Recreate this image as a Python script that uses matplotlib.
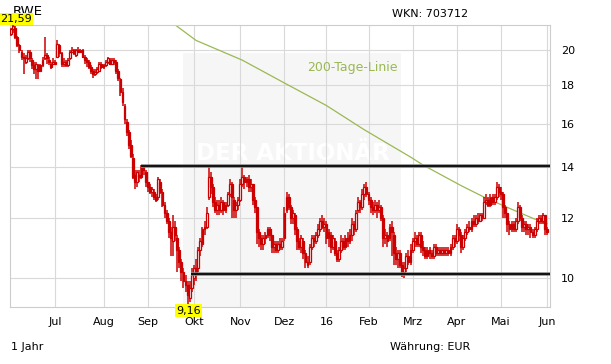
import numpy as np
import matplotlib
matplotlib.use("Agg")
import matplotlib.pyplot as plt
from matplotlib.ticker import NullLocator
from matplotlib.transforms import blended_transform_factory

# ── Daten (RWE, 1 Jahr, Tageskerzen, je Zeile ein Monat) ──────────────
open_ = [
    21.0, 21.3, 21.4, 20.8, 20.3, 19.9, 19.6, 19.3, 19.5, 19.9, 19.4, 19.1, 18.9, 19.1, 18.8, 19.1, 19.5, 19.7, 19.4, 19.2, 19.2,
    19.3, 19.6, 20.3, 19.8, 19.2, 19.3, 19.1, 19.5, 19.9, 20.0, 19.7, 20.0, 19.9, 20.0, 19.6, 19.4, 19.3, 19.0, 18.8, 18.6, 18.7, 18.8, 19.2,
    19.0, 19.1, 19.3, 19.4, 19.2, 19.4, 19.3, 18.8, 18.3, 17.6, 16.9, 16.1, 15.6, 15.0, 14.4, 13.7, 13.4, 13.7, 13.6, 14.0, 13.8,
    13.4, 13.2, 13.0, 13.0, 12.8, 12.8, 13.4, 13.0, 12.5, 12.2, 11.9, 11.5, 11.2, 11.7, 11.3, 10.9, 10.5, 10.2, 9.9, 9.8, 9.4, 9.7,
    10.0, 10.3, 10.3, 10.9, 11.1, 11.6, 11.7, 12.8, 13.6, 13.2, 12.6, 12.3, 12.5, 12.3, 12.6, 12.3, 12.5, 12.9, 13.3, 12.7, 12.3, 12.5,
    12.7, 13.3, 13.6, 13.4, 13.5, 13.2, 13.3, 12.7, 12.4, 11.5, 11.3, 11.1, 11.3, 11.4, 11.6, 11.4, 11.0, 11.1, 10.9, 11.1, 11.0,
    11.3, 12.3, 12.8, 12.4, 12.0, 12.1, 11.6, 11.2, 11.0, 11.2, 10.8, 10.5, 10.5, 11.0, 11.3, 11.2, 11.4, 11.6, 11.9, 11.7,
    11.8, 11.3, 11.4, 11.0, 11.2, 10.8, 10.6, 10.9, 11.2, 11.0, 11.3, 11.2, 11.4, 11.8, 11.6, 12.3, 12.6, 12.4, 12.9, 13.2,
    12.9, 12.7, 12.4, 12.3, 12.5, 12.3, 12.4, 12.0, 11.3, 11.4, 11.3, 11.7, 11.4, 10.8, 10.6, 10.8, 10.4, 10.2, 10.3, 10.7, 10.5,
    10.9, 11.2, 11.3, 11.1, 11.4, 11.0, 10.9, 10.7, 10.9, 10.8, 10.7, 11.0, 10.8, 10.9, 10.8, 10.9, 10.8, 10.9, 10.8, 11.0, 11.3,
    11.2, 11.6, 11.4, 11.0, 11.3, 11.5, 11.7, 11.6, 11.9, 11.8, 12.0, 11.9, 12.1, 12.0, 12.6, 12.7, 12.5, 12.8, 12.6, 12.8, 13.2,
    13.0, 12.9, 12.4, 12.2, 11.8, 11.6, 11.8, 11.6, 11.9, 12.4, 12.0, 11.7, 11.8, 11.6, 11.7, 11.5, 11.4, 11.6, 11.9, 12.0, 11.9, 12.1, 11.6,
]
high = [
    21.4, 21.59, 21.5, 20.9, 20.4, 20.0, 19.8, 19.7, 20.0, 20.0, 19.5, 19.3, 19.3, 19.2, 19.2, 19.6, 20.8, 19.8, 19.6, 19.3, 19.5,
    19.4, 20.6, 20.4, 19.9, 19.5, 19.4, 19.5, 20.0, 20.2, 20.1, 20.1, 20.2, 20.1, 20.1, 19.7, 19.5, 19.4, 19.1, 18.9, 18.9, 19.0, 19.3, 19.3,
    19.2, 19.4, 19.6, 19.5, 19.5, 19.5, 19.4, 18.9, 18.4, 17.8, 17.0, 16.2, 15.7, 15.2, 14.6, 13.9, 13.9, 13.9, 14.1, 14.1, 13.9,
    13.4, 13.3, 13.2, 13.1, 12.9, 13.6, 13.5, 13.1, 12.6, 12.3, 12.0, 11.7, 12.1, 11.9, 11.4, 11.0, 10.6, 10.3, 10.1, 9.9, 9.9, 10.3,
    10.4, 10.6, 11.0, 11.3, 11.7, 11.9, 12.4, 14.1, 13.8, 13.3, 12.8, 12.7, 12.7, 12.8, 12.7, 12.6, 13.0, 13.5, 13.4, 12.8, 12.6, 12.8,
    13.5, 14.05, 13.7, 13.6, 13.7, 13.5, 13.3, 12.8, 12.4, 11.6, 11.4, 11.4, 11.5, 11.7, 11.7, 11.4, 11.2, 11.2, 11.2, 11.3, 11.3,
    12.4, 13.0, 12.9, 12.5, 12.3, 12.2, 11.7, 11.3, 11.4, 11.3, 10.9, 10.7, 11.1, 11.4, 11.4, 11.5, 11.8, 12.0, 12.1, 12.0,
    11.9, 11.6, 11.5, 11.4, 11.3, 10.9, 11.0, 11.4, 11.3, 11.4, 11.5, 11.6, 12.0, 11.9, 12.3, 12.8, 12.7, 13.1, 13.3, 13.4,
    13.0, 12.8, 12.6, 12.7, 12.6, 12.7, 12.5, 12.1, 11.6, 11.5, 11.8, 11.9, 11.5, 11.0, 10.9, 10.9, 10.5, 10.5, 10.8, 10.9, 11.1,
    11.3, 11.5, 11.4, 11.5, 11.5, 11.2, 11.0, 11.0, 11.0, 10.9, 11.1, 11.1, 11.0, 11.0, 11.0, 11.0, 11.0, 11.0, 11.1, 11.4, 11.4,
    11.8, 11.7, 11.5, 11.4, 11.6, 11.8, 11.9, 12.0, 12.1, 12.1, 12.2, 12.2, 12.2, 12.8, 12.9, 12.8, 12.9, 12.9, 12.9, 13.4, 13.3,
    13.2, 13.0, 12.5, 12.2, 11.9, 11.9, 11.9, 12.0, 12.6, 12.5, 12.1, 11.9, 11.9, 11.8, 11.8, 11.6, 11.7, 12.0, 12.1, 12.1, 12.2, 12.1, 11.7,
]
low = [
    20.9, 21.1, 20.7, 20.2, 19.8, 19.4, 18.6, 19.2, 19.4, 19.3, 18.9, 18.6, 18.3, 18.3, 18.7, 19.0, 19.4, 19.2, 19.1, 18.9, 19.1,
    19.1, 19.6, 19.6, 19.0, 19.0, 19.0, 19.0, 19.4, 19.8, 19.7, 19.6, 19.8, 19.8, 19.5, 19.2, 19.0, 18.9, 18.6, 18.4, 18.5, 18.6, 18.7, 18.9,
    18.9, 19.0, 19.2, 19.1, 19.1, 19.1, 18.6, 18.2, 17.4, 16.9, 16.0, 15.4, 14.8, 14.4, 13.5, 13.1, 13.2, 13.4, 13.5, 13.7, 13.2,
    13.0, 12.9, 12.8, 12.7, 12.6, 12.7, 12.9, 12.4, 12.0, 11.8, 11.3, 10.7, 10.7, 11.2, 10.2, 10.3, 9.9, 9.7, 9.6, 9.16, 9.3, 9.6,
    9.8, 9.9, 10.2, 10.7, 11.0, 11.4, 11.6, 12.7, 12.9, 12.4, 12.2, 12.1, 12.1, 12.2, 12.1, 12.2, 12.4, 12.8, 12.0, 12.0, 12.0, 12.3,
    12.6, 13.2, 13.1, 13.2, 13.0, 13.0, 12.5, 12.2, 11.1, 11.0, 10.9, 10.9, 11.1, 11.3, 11.2, 10.8, 10.8, 10.8, 10.8, 10.9, 10.9,
    11.2, 12.2, 12.3, 11.8, 11.8, 11.4, 10.9, 10.9, 10.8, 10.6, 10.3, 10.3, 10.4, 10.9, 11.0, 11.1, 11.3, 11.5, 11.6, 11.5,
    11.1, 11.0, 10.8, 10.9, 10.7, 10.5, 10.5, 10.8, 10.9, 10.9, 11.0, 11.1, 11.2, 11.4, 11.5, 12.2, 12.2, 12.3, 12.7, 12.8,
    12.5, 12.2, 12.1, 12.2, 12.0, 12.2, 11.9, 11.0, 11.1, 11.0, 11.2, 10.7, 10.4, 10.4, 10.3, 10.3, 10.05, 10.0, 10.2, 10.4, 10.4,
    10.8, 11.0, 11.0, 11.0, 10.8, 10.7, 10.6, 10.6, 10.6, 10.6, 10.6, 10.7, 10.7, 10.7, 10.7, 10.7, 10.7, 10.7, 10.7, 10.9, 11.0,
    11.1, 11.2, 10.8, 10.9, 11.2, 11.4, 11.5, 11.5, 11.7, 11.7, 11.8, 11.9, 11.9, 12.0, 12.5, 12.4, 12.4, 12.5, 12.5, 12.7, 12.8,
    12.7, 12.0, 12.0, 11.5, 11.4, 11.5, 11.5, 11.5, 11.8, 11.9, 11.5, 11.5, 11.4, 11.4, 11.3, 11.3, 11.3, 11.5, 11.8, 11.8, 11.8, 11.4, 11.4,
]
close = [
    21.3, 21.5, 20.8, 20.3, 20.0, 19.6, 19.5, 19.5, 19.9, 19.5, 19.1, 18.9, 19.2, 18.8, 19.1, 19.4, 19.7, 19.5, 19.3, 19.0, 19.3,
    19.2, 20.4, 19.8, 19.2, 19.3, 19.1, 19.4, 19.9, 20.0, 19.8, 20.0, 19.9, 20.0, 19.6, 19.4, 19.3, 19.0, 18.8, 18.6, 18.7, 18.9, 19.2, 19.0,
    19.1, 19.3, 19.5, 19.2, 19.4, 19.3, 18.8, 18.4, 17.6, 17.1, 16.2, 15.6, 15.0, 14.5, 13.6, 13.4, 13.8, 13.6, 14.0, 13.9, 13.4,
    13.2, 13.0, 13.1, 12.8, 12.7, 13.5, 13.0, 12.5, 12.2, 11.9, 11.5, 11.3, 11.7, 11.4, 10.9, 10.5, 10.2, 9.9, 9.8, 9.5, 9.7, 10.1,
    10.3, 10.2, 10.9, 11.2, 11.6, 11.7, 12.2, 13.6, 13.2, 12.6, 12.3, 12.5, 12.3, 12.6, 12.3, 12.5, 12.9, 13.3, 12.8, 12.3, 12.5, 12.7,
    13.3, 13.6, 13.4, 13.5, 13.2, 13.3, 12.7, 12.4, 11.5, 11.3, 11.1, 11.3, 11.4, 11.6, 11.4, 11.0, 11.1, 10.9, 11.1, 11.0, 11.2,
    12.2, 12.8, 12.4, 12.0, 12.2, 11.6, 11.2, 11.0, 11.3, 10.8, 10.5, 10.4, 11.0, 11.3, 11.2, 11.4, 11.6, 11.9, 11.7, 11.8,
    11.3, 11.5, 11.0, 11.3, 10.8, 10.6, 10.9, 11.2, 11.0, 11.3, 11.2, 11.4, 11.8, 11.6, 12.2, 12.6, 12.4, 12.9, 13.2, 12.9,
    12.7, 12.4, 12.3, 12.5, 12.3, 12.4, 12.0, 11.3, 11.4, 11.2, 11.7, 11.5, 10.8, 10.6, 10.8, 10.4, 10.2, 10.3, 10.7, 10.5, 10.9,
    11.2, 11.3, 11.1, 11.4, 11.0, 10.9, 10.7, 10.9, 10.8, 10.7, 11.0, 10.8, 10.9, 10.8, 10.9, 10.8, 10.9, 10.8, 11.0, 11.3, 11.2,
    11.6, 11.4, 11.0, 11.3, 11.5, 11.7, 11.6, 11.9, 11.8, 12.0, 11.9, 12.1, 12.0, 12.6, 12.7, 12.5, 12.8, 12.6, 12.8, 13.2, 13.0,
    12.9, 12.4, 12.2, 11.8, 11.6, 11.8, 11.6, 11.9, 12.4, 12.0, 11.7, 11.8, 11.6, 11.7, 11.5, 11.4, 11.6, 11.9, 12.0, 11.9, 12.1, 11.6, 11.5,
]

# Handelstage je Monat (Jun 2015 ab 2.6. ... Jun 2016)
trading_days = [21, 23, 21, 22, 22, 21, 20, 20, 21, 21, 21, 22]
month_labels = ["Jul", "Aug", "Sep", "Okt", "Nov", "Dez", "16", "Feb", "Mrz", "Apr", "Mai", "Jun"]

sma_day = [70, 78, 88, 110, 130, 150, 168, 190, 196, 214, 226, 236, 248, 255]
sma_val = [22.4, 21.6, 20.6, 19.4, 18.1, 16.9, 15.7, 14.45, 14.1, 13.25, 12.75, 12.4, 12.0, 11.8]

# Widerstand / Unterstützung (Kurs, Start-Handelstag)
resistance = (14.05, 62)
support = (10.12, 85.5)

# ── Zeichnen ─────────────────────────────────────────────────────
W, H = 611, 364
RED = "#cc0000"
GREEN = "#9ab853"
GRID = "#d9d9d9"

fig = plt.figure(figsize=(W / 100, H / 100), dpi=100)
ax = fig.add_axes([10 / W, 57 / H, 540 / W, 282 / H])

o = np.array(open_)
h = np.array(high)
l = np.array(low)
c = np.array(close)
x = np.arange(len(c))
up = c >= o

ax.set_yscale("log")
ax.set_ylim(min(low), max(high))
ax.set_xlim(-0.5, 256.3)

# Wasserzeichen-Feld
ax.axvspan(81.6, 185.4, ymin=0, ymax=0.90, color="#f6f6f6", lw=0, zorder=0.2)
bt = blended_transform_factory(ax.transData, ax.transAxes)
ax.text(134, 0.546, "DER AKTIONÄR", transform=bt, ha="center", va="center",
        fontsize=16.5, fontweight="bold", color="white", zorder=0.3)

# Kerzen
ax.vlines(x, l, h, color=RED, lw=1.1, zorder=3)
ax.bar(x, np.abs(c - o), bottom=np.minimum(o, c), width=0.85,
       color=np.where(up, "white", RED), edgecolor=RED, linewidth=0.9, zorder=4)

# 200-Tage-Linie
ax.plot(sma_day, sma_val, color=GREEN, lw=0.9, zorder=2.5)
ax.text(184, 0.849, "200-Tage-Linie", transform=bt, ha="right", va="center",
        fontsize=9, color=GREEN, zorder=2.6)

# Widerstand / Unterstützung
for lvl, start in (resistance, support):
    ax.plot([start, 256.3], [lvl, lvl], color="#888888", lw=2.6, zorder=5,
            solid_capstyle="butt")
    ax.plot([start, 256.3], [lvl, lvl], color="#111111", lw=1.4, zorder=5.1,
            solid_capstyle="butt")

# Achsen
month_pos = np.cumsum(trading_days)[:len(month_labels)]
ax.set_xticks(month_pos)
ax.set_xticklabels(month_labels)
yt = [10, 12, 14, 16, 18, 20]
ax.set_yticks(yt)
ax.set_yticklabels([str(v) for v in yt])
ax.yaxis.set_minor_locator(NullLocator())
ax.yaxis.tick_right()
ax.tick_params(axis="y", length=0, pad=8, labelsize=8)
ax.tick_params(axis="x", length=0, pad=7, labelsize=8)
ax.grid(True, color=GRID, lw=0.8)
ax.set_axisbelow(True)
for sp in ax.spines.values():
    sp.set_color("#cccccc")
    sp.set_linewidth(0.8)

# Hoch / Tief Markierungen
hi_txt = f"{max(high):.2f}".replace(".", ",")
lo_txt = f"{min(low):.2f}".replace(".", ",")
ybox = dict(boxstyle="square,pad=0.12", fc="#ffff00", ec="none")
fig.text(13 / W, 1 - 5 / H, "RWE", ha="left", va="top", fontsize=9.5, zorder=1)
fig.text(16 / W, 1 - 19 / H, hi_txt, ha="center", va="center", fontsize=8,
         bbox=ybox, zorder=5)
ax.text(int(np.argmin(low)) + 0.3, -0.013, lo_txt, transform=bt, ha="center",
        va="center", fontsize=8, bbox=ybox, zorder=6, clip_on=False)

fig.text(392 / W, 1 - 14 / H, "WKN: 703712", ha="left", va="center", fontsize=8)
fig.text(11 / W, 1 - 347 / H, "1 Jahr", ha="left", va="center", fontsize=8)
fig.text(390 / W, 1 - 347 / H, "Währung: EUR", ha="left", va="center", fontsize=8)

fig.savefig("out.png", dpi=100)
